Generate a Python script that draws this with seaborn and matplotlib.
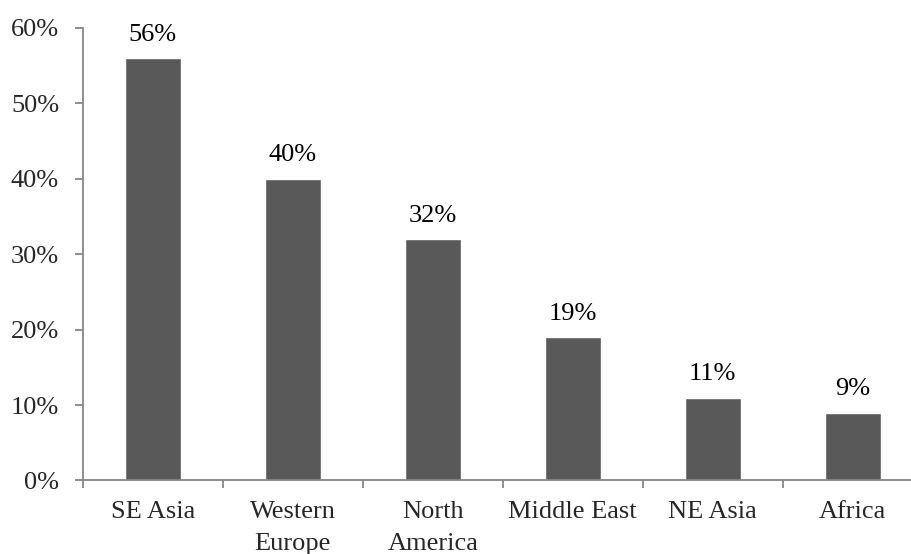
import matplotlib
matplotlib.use("Agg")
import matplotlib.pyplot as plt
import seaborn as sns
import pandas as pd
from matplotlib.ticker import FixedLocator, FuncFormatter

regions = ["SE Asia", "Western\nEurope", "North\nAmerica", "Middle East", "NE Asia", "Africa"]
shares = [56, 40, 32, 19, 11, 9]
y_ticks = [0, 10, 20, 30, 40, 50, 60]

df = pd.DataFrame({"region": regions, "share": shares})

sns.set_style("white")
plt.rcParams["font.family"] = ["Liberation Serif", "DejaVu Serif"]

fig = plt.figure(figsize=(9.12, 5.54), dpi=100)
ax = fig.add_axes([0.0907, 0.1327, 0.9093, 0.8168])

sns.barplot(data=df, x="region", y="share", color="#595959", width=0.4,
            saturation=1, ax=ax)

for i, v in enumerate(shares):
    ax.annotate(f"{v}%", (i, v), xytext=(0, 9), textcoords="offset points",
                ha="center", va="bottom", fontsize=19, color="black")

ax.set_ylim(0, 60)
ax.set_xlim(-0.5, 5.424)
ax.set_yticks(y_ticks)
ax.yaxis.set_major_formatter(FuncFormatter(lambda v, p: f"{v:.0f}%"))
ax.set_xlabel("")
ax.set_ylabel("")

spine_color = "#868686"
for s in ["top", "right"]:
    ax.spines[s].set_visible(False)
for s in ["left", "bottom"]:
    ax.spines[s].set_color(spine_color)
    ax.spines[s].set_linewidth(1.3)

ax.tick_params(axis="y", which="major", direction="out", length=6, width=1.3,
               color=spine_color, labelsize=19, pad=11, left=True)
ax.tick_params(axis="x", which="major", length=0, labelsize=19, pad=15)
ax.xaxis.set_minor_locator(FixedLocator([-0.5, 0.5, 1.5, 2.5, 3.5, 4.5]))
ax.tick_params(axis="x", which="minor", direction="out", length=6, width=1.3,
               color=spine_color, bottom=True)
for lbl in ax.get_xticklabels():
    lbl.set_linespacing(1.55)

fig.savefig("out.png", dpi=100)
